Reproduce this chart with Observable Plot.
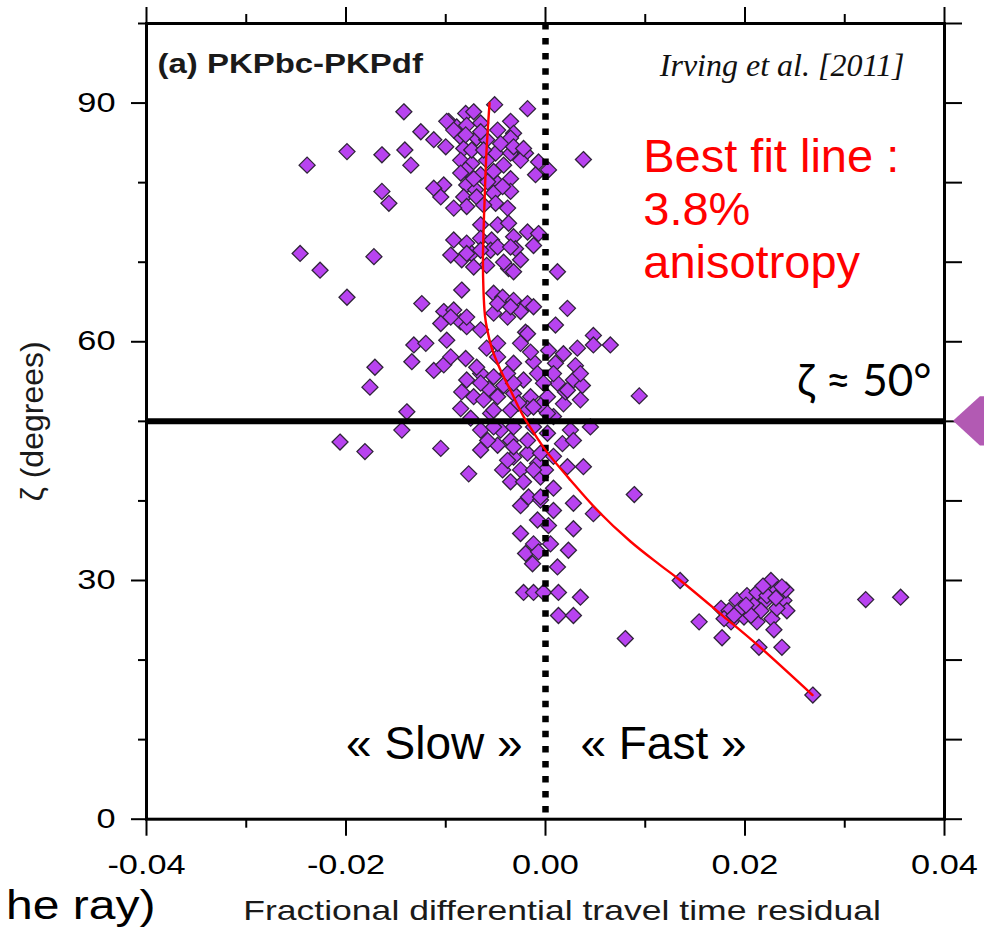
<!DOCTYPE html>
<html><head><meta charset="utf-8">
<script src="https://cdn.jsdelivr.net/npm/d3@7"></script>
<script src="https://cdn.jsdelivr.net/npm/@observablehq/plot@0.6"></script>
<style>html,body{margin:0;padding:0;background:#fff;} svg{display:block}</style>
</head><body><div id="chart"></div>
<script>
// Observed (fractional differential travel time residual, zeta in degrees)
const residualZeta = [
[-0.0142,88.9],[-0.0051,89.8],[-0.0018,89.3],[-0.0080,88.7],[-0.0072,88.9],[-0.0097,87.7],[-0.0125,86.4],
[-0.0112,85.4],[-0.0100,84.5],[-0.0089,87.0],[-0.0079,87.2],[-0.0065,87.5],[-0.0048,86.6],[-0.0035,87.7],
[-0.0032,86.2],[-0.0069,85.6],[-0.0084,85.6],[-0.0059,85.4],[-0.0035,85.6],[-0.0082,84.3],[-0.0050,83.7],
[-0.0035,83.7],[-0.0020,83.7],[-0.0199,83.9],[-0.0164,83.5],[-0.0141,84.1],[-0.0239,82.2],[-0.0135,82.2],
[0.0038,82.9],[-0.0085,82.8],[-0.0074,82.4],[-0.0059,82.8],[-0.0042,82.2],[-0.0025,82.8],[-0.0007,82.6],
[0.0003,81.6],[-0.0010,81.0],[-0.0080,81.6],[-0.0065,81.0],[-0.0052,81.4],[-0.0035,80.5],[-0.0048,79.9],
[-0.0079,79.7],[-0.0102,79.7],[-0.0112,79.3],[-0.0105,78.2],[-0.0164,78.9],[-0.0157,77.4],[-0.0082,78.2],
[-0.0070,79.1],[-0.0052,78.7],[-0.0035,78.9],[-0.0079,77.0],[-0.0050,77.4],[-0.0038,76.8],[-0.0065,74.7],
[-0.0048,74.7],[-0.0037,74.9],[-0.0018,73.8],[-0.0007,73.6],[-0.0092,72.8],[-0.0079,72.4],[-0.0065,73.0],
[-0.0054,72.8],[-0.0032,73.2],[-0.0012,72.1],[-0.0095,70.9],[-0.0084,70.3],[-0.0074,71.1],[-0.0055,71.5],
[-0.0030,71.7],[-0.0059,69.6],[-0.0037,69.2],[-0.0032,68.8],[-0.0246,71.1],[-0.0172,70.7],[-0.0226,69.0],
[0.0012,68.8],[-0.0084,66.5],[-0.0199,65.6],[-0.0124,64.8],[-0.0052,66.1],[-0.0043,65.6],[-0.0032,65.2],
[-0.0018,64.8],[0.0022,64.2],[-0.0102,63.8],[-0.0092,64.0],[-0.0085,62.5],[-0.0105,62.3],[-0.0079,61.9],
[-0.0038,63.1],[-0.0025,63.8],[0.0010,62.1],[-0.0020,61.2],[0.0048,60.8],[-0.0052,63.6],
[-0.0099,87.7],[-0.0092,86.6],[-0.0080,86.0],[-0.0065,86.4],[-0.0074,84.1],[-0.0062,84.1],[-0.0045,84.9],
[-0.0032,84.5],[-0.0022,84.3],[-0.0085,81.2],[-0.0072,80.5],[-0.0058,80.1],[-0.0043,79.5],[-0.0069,78.2],
[-0.0062,77.2],[-0.0092,76.8],[-0.0079,71.1],[-0.0065,71.5],[-0.0048,71.9],[-0.0035,71.9],[-0.0042,70.0],
[-0.0025,70.3],[-0.0072,69.4],[-0.0048,64.8],[-0.0035,64.4],[-0.0012,64.4],[-0.0095,63.1],[-0.0079,63.1],
[-0.0065,61.5],
[-0.0132,59.6],[-0.0120,59.8],[-0.0134,57.5],[-0.0112,56.4],[-0.0102,57.1],[-0.0095,58.1],[-0.0099,60.2],
[-0.0080,57.9],[-0.0171,56.8],[-0.0176,54.3],[-0.0139,51.2],[-0.0144,48.9],[-0.0206,47.4],[-0.0181,46.2],
[-0.0105,46.6],[-0.0077,43.4],[-0.0085,51.6],[-0.0079,55.2],[-0.0065,56.0],[-0.0057,54.1],[-0.0072,53.1],
[-0.0062,52.7],[-0.0048,58.1],[-0.0038,56.0],[-0.0032,57.3],[-0.0025,59.8],[-0.0018,61.0],[-0.0048,59.8],
[-0.0012,57.5],[-0.0022,55.2],[-0.0008,56.0],[-0.0048,53.1],[-0.0032,53.5],[-0.0015,53.1],[-0.0035,51.4],
[-0.0055,51.0],[-0.0075,50.4],[-0.0045,48.9],[-0.0032,49.3],[-0.0048,47.0],[-0.0035,47.6],[-0.0018,46.0],
[-0.0032,45.5],[-0.0043,43.9],[-0.0025,43.9],[-0.0008,44.7],[-0.0035,42.4],[-0.0017,40.5],[-0.0022,42.4],
[-0.0005,43.0],[0.0010,57.3],[0.0018,58.5],[0.0032,59.2],[0.0048,59.6],[0.0012,54.8],[0.0028,55.2],
[0.0035,52.7],[0.0018,52.2],[0.0008,50.6],[0.0025,48.9],[0.0045,49.3],[0.0017,47.2],[0.0002,48.5],
[-0.0012,49.3],[0.0022,44.3],[0.0038,44.3],[0.0008,41.6],[0.0008,38.8],[0.0028,39.7],[0.0048,38.4],
[0.0028,36.5],[-0.0008,37.6],[-0.0025,35.9],[-0.0012,34.6],[-0.0020,33.4],[-0.0007,33.6],[0.0005,34.6],
[0.0023,33.8],[0.0012,31.7],[-0.0013,32.1],[-0.0022,28.5],[-0.0012,28.5],[-0.0002,28.5],[0.0013,28.5],
[0.0035,27.9],[0.0013,25.6],[0.0028,25.6],[-0.0059,59.2],[-0.0069,56.8],[-0.0084,53.7],[-0.0018,51.6],
[0.0002,53.1],[-0.0002,54.8],[-0.0065,48.9],[-0.0052,49.3],[-0.0018,47.6],[-0.0005,46.0],
[-0.0042,54.5],[-0.0027,52.3],[-0.0005,52.0],[0.0020,53.7],[0.0037,54.5],[0.0030,57.0],[0.0003,58.9],
[-0.0015,58.7],[0.0008,45.6],[0.0000,43.9],[-0.0025,39.4],[0.0003,36.9],[-0.0005,40.1],
[-0.0065,54.8],[-0.0052,55.6],[-0.0052,51.4],[-0.0032,54.8],[-0.0012,51.8],[0.0002,51.0],[0.0008,56.0],
[0.0022,53.9],[0.0035,56.0],[-0.0032,46.8],[-0.0012,43.9],[-0.0038,45.1],[-0.0058,47.6],[-0.0065,46.4],
[0.0028,47.6],[-0.0005,40.5],
[0.0089,40.8],[0.0094,53.2],[0.0065,59.6],[0.0080,22.7],
[0.0135,30.0],[0.0154,24.8],[0.0177,22.8],[0.0176,26.5],[0.0184,26.2],[0.0192,27.5],[0.0199,25.4],
[0.0209,26.9],[0.0212,24.8],[0.0221,27.5],[0.0227,25.2],[0.0226,30.0],[0.0239,27.5],[0.0241,28.8],
[0.0229,23.8],[0.0214,21.6],[0.0237,21.6],[0.0268,15.6],[0.0321,27.6],[0.0356,27.9],[0.0202,28.1],
[0.0212,28.5],[0.0232,28.8],[0.0242,26.2],[0.0186,24.8],[0.0179,25.2],[0.0196,26.5],[0.0216,26.2],
[0.0232,26.5],[0.0206,25.6],[0.0222,28.1],[0.0237,29.2],[0.0218,29.3],[0.0231,27.8],[0.0201,26.9],
[0.0189,25.6]
];
// Best fit line
const fitResidual = [-0.00561,-0.00591,-0.00607,-0.00627,-0.00622,-0.00607,-0.00584,-0.00541,-0.00481,-0.00416,-0.00351,-0.00286,-0.00218,-0.00083,0.00017,0.00251,0.00521,0.00852,0.01153,0.01353,0.01784,0.02125,0.02677];
const fitZeta = [90.0,84.1,79.1,70.6,66.5,63.3,61.5,59.3,57.3,55.5,53.9,52.2,50.55,47.9,46.1,42.6,38.8,34.9,31.9,30.0,25.5,21.9,15.6];
// Ticks
const xMajor = [-0.04,-0.02,0,0.02,0.04];
const xMinor = [-0.03,-0.01,0.01,0.03];
const yMajor = [0,30,60,90];
const yMinor = [10,20,40,50,70,80,100];
const yRight = [0,10,20,30,40,50,60,70,80,90,100];
const referenceZeta = [50];
const neutral = [0];

const points = residualZeta.map(([x,y]) => ({x, y}));
const fit = fitResidual.map((x,i) => ({x, y: fitZeta[i]}));

const chart = Plot.plot({
  width: 984, height: 927,
  marginLeft: 146, marginRight: 40, marginTop: 23, marginBottom: 108.3,
  x: {domain: [-0.04, 0.04], label: null},
  y: {domain: [0, 100], label: null},
  style: {fontFamily: "Liberation Sans, Arial, sans-serif", background: "white", color: "black", overflow: "visible"},
  marks: [
    Plot.axisX(xMajor, {anchor: "bottom", tickSize: 17, tickPadding: 19, strokeWidth: 2, fontSize: 27, tickFormat: d => d.toFixed(2), label: null}),
    Plot.axisX(xMinor, {anchor: "bottom", tickSize: 9, strokeWidth: 2, fill: "none", label: null}),
    Plot.axisX(xMajor, {anchor: "top", tickSize: 17, strokeWidth: 2, fill: "none", label: null}),
    Plot.axisX(xMinor, {anchor: "top", tickSize: 10, strokeWidth: 2, fill: "none", label: null}),
    Plot.axisY(yMajor, {anchor: "left", tickSize: 15, tickPadding: 16, strokeWidth: 2, fontSize: 27, tickFormat: d => String(d), label: null}),
    Plot.axisY(yMinor, {anchor: "left", tickSize: 8, strokeWidth: 2, fill: "none", label: null}),
    Plot.axisY(yRight, {anchor: "right", tickSize: 17, strokeWidth: 2, fill: "none", label: null}),
    Plot.dot(points, {x: "x", y: "y", symbol: "diamond2", r: 7.2, fill: "#b843f0", stroke: "#30243a", strokeWidth: 1.3}),
    Plot.ruleX(neutral, {y1: 100, y2: 0, stroke: "black", strokeWidth: 6.5, strokeDasharray: "6.5,8.56"}),
    Plot.ruleY(referenceZeta, {stroke: "black", strokeWidth: 6}),
    Plot.line(fit, {x: "x", y: "y", stroke: "#ff0000", strokeWidth: 2.4, curve: "catmull-rom"}),
    Plot.frame({stroke: "black", strokeWidth: 3}),
    Plot.areaY([{x: 0.0409, y1: 50, y2: 50}, {x: 0.0436, y1: 46.9, y2: 53.1}, {x: 0.0460, y1: 46.9, y2: 53.1}],
      {x: "x", y1: "y1", y2: "y2", fill: "#b25ab3"}),
    // texts
    Plot.text(["(a) PKPbc-PKPdf"], {text: d => d, frameAnchor: "top-left", dx: 11, dy: 30.8, textAnchor: "start", lineAnchor: "top", fontWeight: "bold", fontSize: 27, fill: "#1a1a1a", ariaDescription: "stretch 1.22"}),
    Plot.text(["Irving et al. [2011]"], {text: d => d, frameAnchor: "top-right", dx: -40, dy: 29.3, textAnchor: "end", lineAnchor: "top", fontFamily: "Liberation Serif, serif", fontStyle: "italic", fontSize: 32, fill: "#111"}),
    Plot.text(["Best fit line :\n3.8%\nanisotropy"], {text: d => d, x: 0.0098, y: 86.07, textAnchor: "start", lineAnchor: "top", lineHeight: 1.13, fontSize: 47, fill: "#ff0000"}),
    Plot.text(["ζ ≈ 50°"], {text: d => d, x: 0.0387, y: 55.0, textAnchor: "end", fontFamily: "Lato, sans-serif", fontSize: 44, fill: "black"}),
    Plot.text(["« Slow »"], {text: d => d, x: -0.0023, y: 9.36, textAnchor: "end", fontSize: 46, fill: "black"}),
    Plot.text(["« Fast »"], {text: d => d, x: 0.0035, y: 9.36, textAnchor: "start", fontSize: 46, fill: "black"}),
    Plot.text(["Fractional differential travel time residual"], {text: d => d, frameAnchor: "bottom", dx: 16.5, dy: 81.4, lineAnchor: "top", fontSize: 28, fill: "#1a1a1a", ariaDescription: "stretch 1.27"}),
    Plot.text(["ζ (degrees)"], {text: d => d, frameAnchor: "left", dx: -114, rotate: -90, textAnchor: "middle", fontSize: 32, fill: "#1a1a1a"}),
    Plot.text(["he ray)"], {text: d => d, frameAnchor: "bottom-left", dx: 9, dy: 99.5, textAnchor: "end", lineAnchor: "bottom", fontSize: 40, fill: "black", ariaDescription: "stretch 1.2"})
  ]
});
document.getElementById("chart").append(chart);

function stretch(t, f) {
  const L = t.getComputedTextLength();
  if (L > 0) { t.setAttribute("textLength", (L * f).toFixed(1)); t.setAttribute("lengthAdjust", "spacingAndGlyphs"); }
}
chart.querySelectorAll('g[aria-label="x-axis tick label"] text, g[aria-label="y-axis tick label"] text').forEach(t => stretch(t, 1.27));
chart.querySelectorAll('g[aria-description^="stretch"]').forEach(g => {
  const f = parseFloat(g.getAttribute("aria-description").split(" ")[1]);
  g.querySelectorAll("text").forEach(t => stretch(t, f));
});
</script>
</body></html>
